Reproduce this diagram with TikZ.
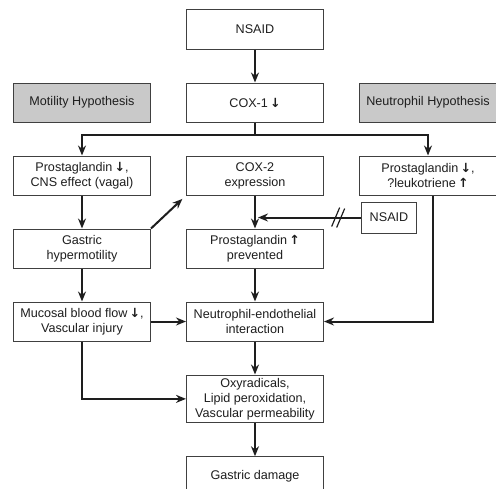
\documentclass[tikz,border=0pt]{standalone}
\usepackage{fontspec}
\setmainfont{Liberation Sans}
\newfontfamily\symfont{DejaVu Sans}
\usepackage{tikz}
\usetikzlibrary{arrows.meta,positioning,calc}
\definecolor{GutDark}{HTML}{1E1E1E}
\definecolor{GutGray}{HTML}{C9C9C9}
\newcommand{\dnarr}{{\symfont\bfseries ↓}}
\newcommand{\uparr}{{\symfont\bfseries ↑}}
\tikzset{
  stepbox/.style={draw=GutDark!85,line width=1pt,align=center,minimum width=137pt,minimum height=39pt,inner sep=3pt,text=GutDark,font=\fontsize{12.6}{15}\selectfont,fill=white},
  hypbox/.style={stepbox,fill=GutGray},
  gutarrow/.style={-{Stealth[length=10pt,width=8pt]},line width=2pt,draw=GutDark},
  gutline/.style={line width=2pt,draw=GutDark},
  cutmark/.style={line width=1.2pt,draw=GutDark}
}

\begin{document}
\begin{tikzpicture}[x=1pt,y=1pt,node distance=33pt and 35pt]
\useasboundingbox (0,0) rectangle (496,-488);
\node[stepbox,minimum height=40pt] (nsaid) at (255,-29) {NSAID};
\node[stepbox,below=of nsaid] (cox1) {COX-1\,\dnarr};
\node[hypbox,left=of cox1] (mot) {Motility Hypothesis};
\node[hypbox,right=of cox1] (neu) {Neutrophil Hypothesis};
\draw[gutarrow] (nsaid) -- (cox1);

% three branches from COX-1
\node[stepbox,below=of mot] (pgl) {Prostaglandin\,\dnarr,\\CNS effect (vagal)};
\node[stepbox,below=of cox1] (cox2) {COX-2\\expression};
\node[stepbox,below=of neu] (pgr) {Prostaglandin\,\dnarr,\\?leukotriene\,\uparr};
\draw[gutline] (cox1.south) -- ++(0,-12) coordinate (fork);
\draw[gutarrow] (fork) -| (pgl.north);
\draw[gutarrow] (fork) -| (pgr.north);

% motility side
\node[stepbox,below=of pgl] (gh) {Gastric\\hypermotility};
\node[stepbox,below=of gh] (mbf) {Mucosal blood flow\,\dnarr,\\Vascular injury};
\draw[gutarrow] (pgl) -- (gh);
\draw[gutarrow] (gh) -- (mbf);
\draw[gutarrow,shorten >=5pt] (gh.north east) -- (cox2.south west);

% middle column
\node[stepbox,below=of cox2] (pgp) {Prostaglandin\,\uparr\\prevented};
\node[stepbox,below=of pgp] (nei) {Neutrophil-endothelial\\interaction};
\node[stepbox,below=of nei] (oxy) {Oxyradicals,\\Lipid peroxidation,\\Vascular permeability};
\node[stepbox,below=of oxy] (dmg) {Gastric damage};
\draw[gutarrow] (cox2) -- (pgp);
\draw[gutarrow] (pgp) -- (nei);
\draw[gutarrow] (nei) -- (oxy);
\draw[gutarrow] (oxy) -- (dmg);

% second NSAID, blocked
\node[stepbox,minimum width=55pt,minimum height=31pt,below=6pt of pgr.south west,anchor=north west,xshift=2pt] (nsaid2) {NSAID};
\draw[gutarrow,shorten >=3pt] (nsaid2.west) -- coordinate[pos=0.22] (cut) (nsaid2.west -| cox2.south);
\draw[cutmark] ($(cut)+(-6,-9)$) -- ($(cut)+(2,10)$);
\draw[cutmark] ($(cut)+(-1,-10)$) -- ($(cut)+(7,9)$);

% links into the middle column
\draw[gutarrow] ([xshift=5pt]pgr.south) |- (nei.east);
\draw[gutarrow] (mbf) -- (nei);
\draw[gutarrow] (mbf.south) |- (oxy.west);
\end{tikzpicture}
\end{document}
